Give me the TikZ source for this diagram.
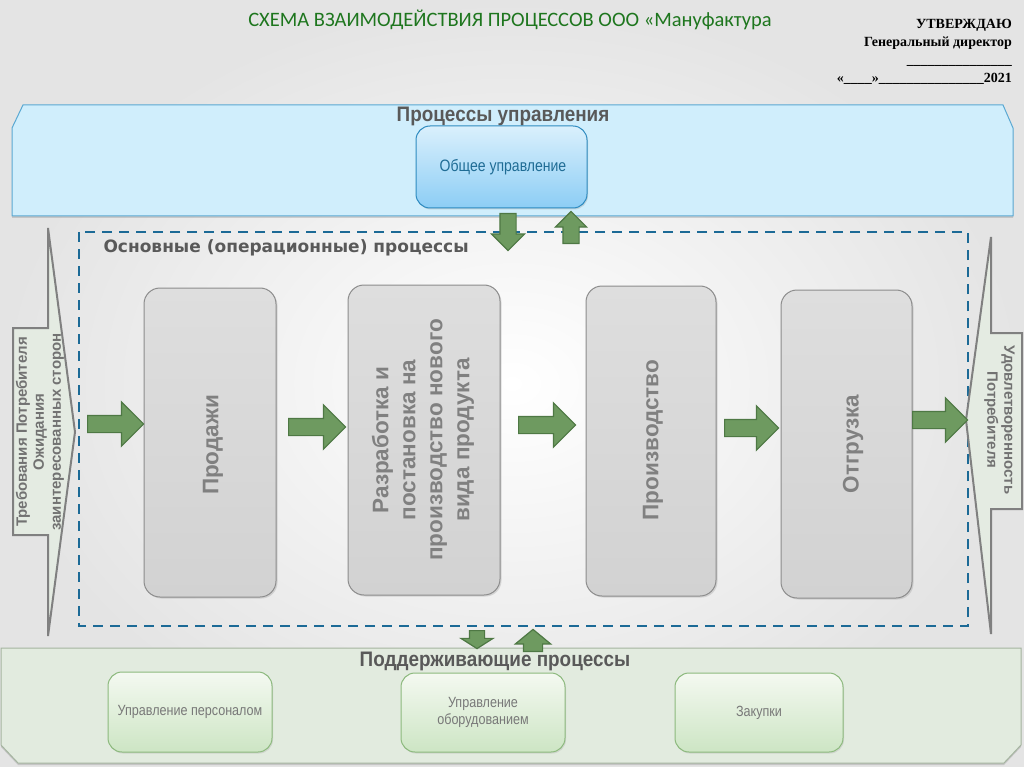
\documentclass[tikz,border=0pt]{standalone}
\usepackage{fontspec}
\setmainfont{Liberation Sans}
\newfontfamily\titlefont{Carlito}
\newfontfamily\serifb{Liberation Serif}
\newfontfamily\condf[FakeStretch=0.9]{Liberation Sans}
\newfontfamily\lightf[FakeStretch=0.85]{Liberation Sans}
\newfontfamily\dvb{DejaVu Sans}
\usetikzlibrary{shapes.arrows,shadows}
\definecolor{bgout}{RGB}{228,228,228}
\definecolor{titlegreen}{RGB}{30,118,30}
\definecolor{garrowf}{RGB}{110,154,96}
\definecolor{garrowd}{RGB}{78,120,68}
\definecolor{mgmtf}{RGB}{208,238,252}
\definecolor{mgmtd}{RGB}{90,168,210}
\definecolor{suppf}{RGB}{226,235,223}
\definecolor{suppd}{RGB}{165,180,160}
\definecolor{proct}{RGB}{222,222,222}
\definecolor{procb}{RGB}{210,210,210}
\definecolor{procd}{RGB}{140,140,140}
\definecolor{proctxt}{RGB}{128,128,128}
\definecolor{headtxt}{RGB}{89,89,89}
\definecolor{inf}{RGB}{228,235,226}
\definecolor{ind}{RGB}{128,128,128}
\definecolor{dashblue}{RGB}{28,106,150}
\definecolor{obt}{RGB}{218,240,252}
\definecolor{obb}{RGB}{140,205,245}
\definecolor{obd}{RGB}{46,139,192}
\definecolor{obtxt}{RGB}{31,108,149}
\definecolor{spt}{RGB}{244,249,241}
\definecolor{spb}{RGB}{205,229,196}
\definecolor{spd}{RGB}{140,185,125}
\definecolor{sptxt}{RGB}{120,120,120}
\tikzset{
  garrow/.style={single arrow, draw=garrowd, fill=garrowf, line width=1.2pt, inner xsep=0pt, single arrow tip angle=90, anchor=tail},
  procbox/.style={draw=procd, line width=1pt, rounded corners=16pt, top color=proct, bottom color=procb, inner sep=0pt,
    drop shadow={opacity=0.25, shadow xshift=1.5pt, shadow yshift=-1.5pt}},
  proctext/.style={rotate=90, font=\bfseries\fontsize{22.5}{27}\selectfont, text=proctxt, align=center},
  sidetext/.style={font=\bfseries\fontsize{15}{17}\selectfont, text=headtxt!85, align=center},
  heading/.style={font=\condf\bfseries\fontsize{21}{24}\selectfont, text=headtxt},
  obbox/.style={draw=obd, line width=1pt, rounded corners=14pt, top color=obt, bottom color=obb, inner sep=0pt,
    drop shadow={opacity=0.25, shadow xshift=1pt, shadow yshift=-1.5pt}},
  spbox/.style={draw=spd, line width=1pt, rounded corners=14pt, top color=spt, bottom color=spb, inner sep=0pt,
    drop shadow={opacity=0.2, shadow xshift=1pt, shadow yshift=-1.5pt}},
  sptext/.style={font=\lightf\fontsize{14.8}{16.5}\selectfont, text=sptxt, align=center},
}
\begin{document}
\begin{tikzpicture}[x=1pt,y=-1pt]
\useasboundingbox (0,0) rectangle (1024,767);
\shade[inner color=white, outer color=bgout] (0,0) rectangle (1024,767);

% title
\node[font=\titlefont\fontsize{20.5}{24}\selectfont, text=titlegreen] (title) at (510,20) {СХЕМА ВЗАИМОДЕЙСТВИЯ ПРОЦЕССОВ ООО «Мануфактура};
\node[anchor=north east, align=right, font=\serifb\bfseries\fontsize{14}{18}\selectfont, inner sep=0pt] (approve) at (1012,19)
  {УТВЕРЖДАЮ\\Генеральный директор\\\_\_\_\_\_\_\_\_\_\_\_\_\_\_\_\\«\_\_\_\_»\_\_\_\_\_\_\_\_\_\_\_\_\_\_\_2021};

% management band
\draw[draw=mgmtd, fill=mgmtf, line width=1pt, drop shadow={opacity=0.3, shadow xshift=0pt, shadow yshift=-2pt}]
  (23,105) -- (1003,105) -- (1013,128) -- (1013,216) -- (12,216) -- (12,128) -- cycle;
\node[heading] (mgmt) at (503,116) {Процессы управления};
\node[obbox, minimum width=171pt, minimum height=82pt] (ob) at (501.5,167) {};
\node[font=\lightf\fontsize{16.5}{18}\selectfont, text=obtxt] (obt) at (503,167) {Общее управление};

% support band
\draw[draw=suppd, fill=suppf, line width=1pt, drop shadow={opacity=0.3, shadow xshift=0pt, shadow yshift=-2pt}]
  (1,648) -- (1021,648) -- (1021,745) -- (1004,763) -- (18,763) -- (1,745) -- cycle;
\node[heading] (supp) at (495,661) {Поддерживающие процессы};
\node[spbox, minimum width=164pt, minimum height=80pt] (s1) at (190,712) {};
\node[spbox, minimum width=164pt, minimum height=79pt] (s2) at (483,712.5) {};
\node[spbox, minimum width=168pt, minimum height=79pt] (s3) at (759,712.5) {};
\node[sptext] (s1t) at (s1) {Управление персоналом};
\node[sptext] (s2t) at (s2) {Управление\\оборудованием};
\node[sptext] (s3t) at (s3) {Закупки};

% operational processes frame
\draw[dashblue, line width=2.5pt, dash pattern=on 10pt off 7pt] (79,232) rectangle (968,626);
\node[anchor=west, font=\dvb\bfseries\fontsize{17}{19}\selectfont, text=headtxt] (ops) at (100,248) {Основные (операционные) процессы};

% input shape
\draw[draw=ind, fill=inf, line width=2pt]
  (13,328) -- (48,328) -- (48,228) -- (75,432) -- (48,636) -- (48,535) -- (13,535) -- cycle;
\node[sidetext, rotate=90] (intext) at (40,432) {Требования Потребителя\\Ожидания\\заинтересованных сторон};

% output shape
\draw[draw=ind, fill=inf, line width=2pt]
  (966,420) -- (991,237) -- (991,333) -- (1022,333) -- (1022,509) -- (991,509) -- (991,634) -- cycle;
\node[sidetext, rotate=-90] (outtext) at (999.5,420) {Удовлетворенность\\Потребителя};

% process boxes
\node[procbox, minimum width=132pt, minimum height=309pt] (p1) at (210,442.5) {};
\node[procbox, minimum width=152pt, minimum height=310pt] (p2) at (424,440) {};
\node[procbox, minimum width=130pt, minimum height=310pt] (p3) at (651,441) {};
\node[procbox, minimum width=131pt, minimum height=308pt] (p4) at (846.5,444) {};
\node[proctext] (p1t) at (213,445) {Продажи};
\node[proctext] (p2t) at (423,440) {Разработка и\\постановка на\\производство нового\\вида продукта};
\node[proctext] (p3t) at (653,440) {Производство};
\node[proctext] (p4t) at (853,444) {Отгрузка};

% horizontal arrows (placed by their tails)
\node[garrow, minimum height=56pt, inner ysep=8pt, single arrow head extend=13.5pt] (a0) at (87,424) {};
\node[garrow, minimum height=57pt, inner ysep=8pt, single arrow head extend=13.5pt] (a1) at (288,427) {};
\node[garrow, minimum height=57pt, inner ysep=8pt, single arrow head extend=13.5pt] (a2) at (518,425) {};
\node[garrow, minimum height=54pt, inner ysep=8pt, single arrow head extend=13.5pt] (a3) at (724,428) {};
\node[garrow, minimum height=55pt, inner ysep=8pt, single arrow head extend=13.5pt] (a4) at (912,420) {};

% vertical arrows top
\node[garrow, rotate=-90, minimum height=37pt, inner ysep=7.5pt, single arrow head extend=8.5pt] (d1) at (508,213) {};
\node[garrow, rotate=90, minimum height=32pt, inner ysep=7.5pt, single arrow head extend=7.5pt] (u1) at (571,244) {};
% vertical arrows bottom
\node[garrow, rotate=-90, minimum height=18pt, inner ysep=7pt, single arrow head extend=8.5pt, single arrow tip angle=115] (d2) at (477,630) {};
\node[garrow, rotate=90, minimum height=22pt, inner ysep=9pt, single arrow head extend=8pt, single arrow tip angle=101] (u2) at (533,652) {};
\end{tikzpicture}
\end{document}
